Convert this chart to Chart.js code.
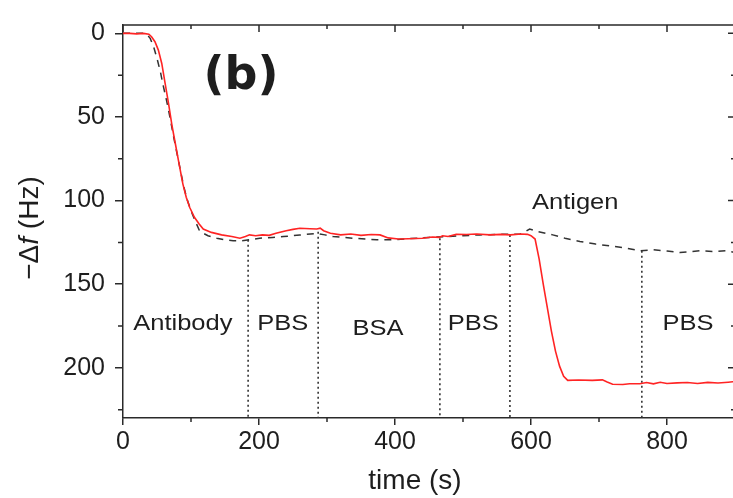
<!DOCTYPE html>
<html lang="en">
<head>
<meta charset="UTF-8">
<title>QCM frequency shift</title>
<script src="https://cdn.jsdelivr.net/npm/chart.js@4"></script>
<style>
  html, body { margin: 0; padding: 0; overflow: hidden; background: #fff; }
  #wrap { width: 740px; height: 498px; }
</style>
</head>
<body>
<div id="wrap"><canvas id="qcm"></canvas></div>
<script>
// values: time (s) and -Δf (Hz)
const redTime = [0, 10, 20, 30, 38, 42, 47, 52, 57, 62, 67, 72, 77, 82, 88, 93, 98, 105, 112, 118, 130, 145, 160, 172, 180, 186, 195, 205, 215, 225, 240, 250, 260, 275, 285, 290, 295, 305, 320, 335, 350, 365, 378, 390, 405, 420, 440, 455, 465, 470, 478, 490, 505, 520, 540, 555, 570, 585, 595, 600, 606, 612, 618, 624, 630, 636, 642, 648, 654, 670, 690, 705, 712, 720, 735, 745, 760, 770, 780, 790, 800, 815, 830, 845, 860, 875, 890, 900];
const redShift = [0, 0, 0.3, 0, 0.5, 2, 5, 10, 18, 30, 42, 55, 66, 77, 90, 98, 104, 110, 114, 117, 119, 120.5, 121.5, 122.5, 121.5, 120.5, 121, 120.5, 120.8, 119.5, 118, 117.2, 116.5, 116.8, 117, 116.5, 118, 119.5, 120.5, 120, 120.8, 120.3, 120.5, 122.3, 123, 122.8, 122.5, 121.8, 122, 121, 121.5, 120.2, 120.3, 120, 120.5, 120.2, 120.5, 120, 120.2, 121, 123, 135, 150, 164, 178, 190, 199, 205, 207.5, 207.3, 207.5, 207.2, 208.5, 209.8, 210, 209.5, 209.5, 208.8, 209.6, 208.6, 209.4, 209, 208.8, 209.4, 208.7, 209.1, 208.6, 208.2];

const dashTime = [0, 30, 36, 40, 45, 50, 55, 59, 64, 69, 74, 79, 84, 89, 94, 100, 106, 113, 125, 138, 150, 162, 175, 187, 201, 220, 236, 260, 285, 297, 309, 338, 373, 397, 420, 450, 476, 500, 525, 555, 584, 592, 598, 610, 632, 650, 672, 695, 721, 740, 760, 780, 800, 819, 835, 849, 870, 888, 900];
const dashShift = [0, 0, 1, 3, 8, 15, 23, 31, 40, 50, 61, 71, 81, 91, 99, 106, 112, 118.5, 121, 122.5, 123.5, 124, 124, 123.4, 122.5, 122, 121.5, 120.6, 119.6, 120.5, 121.5, 122.5, 123.4, 123.4, 122.8, 122, 121.5, 121, 120.5, 120.2, 120, 118.5, 117, 118.5, 120.5, 122.5, 124.4, 126, 127.3, 128.5, 130, 129.4, 130.2, 131, 130.5, 130, 130.5, 130, 131];

// injection boundaries (dotted lines) and where each one starts
const stepTime = [184, 287, 466, 569, 763];
const stepTop = [123.4, 118.6, 122.5, 120.5, 130];

const phaseLabels = ['Antibody', 'PBS', 'BSA', 'PBS', 'PBS', 'Antigen'];
const phaseX = [88, 235, 375, 515, 831, 665];
const phaseY = [173.6, 173.6, 176.5, 173.6, 173.6, 101.5];

const xTicks = [0, 200, 400, 600, 800];
const xMinor = [100, 300, 500, 700, 900];
const yTicks = [0, 50, 100, 150, 200];
const yMinor = [25, 75, 125, 175, 225];

const X_MIN = 0, X_MAX = 900, Y_MIN = -5, Y_MAX = 230;

const ink = '#2a2a2a';
const toPts = (xs, ys) => xs.map((x, i) => ({ x: x, y: ys[i] }));

const datasets = [
  { data: toPts(redTime, redShift), borderColor: '#ff2424', borderWidth: 1.6 },
  { data: toPts(dashTime, dashShift), borderColor: '#333', borderWidth: 1.5, borderDash: [7, 6] }
];
stepTime.forEach((t, i) => {
  datasets.push({ data: [{ x: t, y: stepTop[i] }, { x: t, y: Y_MAX }],
    borderColor: '#333', borderWidth: 1.6, borderDash: [2, 3] });
});
datasets.forEach(d => { d.pointRadius = 0; d.tension = 0; d.fill = false; });

const frame = {
  id: 'frame',
  afterDraw(chart) {
    const { ctx, chartArea: a, scales: { x, y } } = chart;
    ctx.save();
    ctx.strokeStyle = ink;
    ctx.lineWidth = 1.5;
    ctx.beginPath();
    ctx.moveTo(a.left, a.top); ctx.lineTo(a.right, a.top); ctx.lineTo(a.right, a.bottom);
    // top ticks (inward)
    xTicks.forEach(v => { const p = x.getPixelForValue(v); ctx.moveTo(p, a.top); ctx.lineTo(p, a.top + 7); });
    xMinor.forEach(v => { const p = x.getPixelForValue(v); ctx.moveTo(p, a.top); ctx.lineTo(p, a.top + 4); });
    // bottom minor (outward)
    xMinor.forEach(v => { const p = x.getPixelForValue(v); ctx.moveTo(p, a.bottom); ctx.lineTo(p, a.bottom + 4); });
    // left minor (outward), right ticks (inward)
    yMinor.forEach(v => { const p = y.getPixelForValue(v); ctx.moveTo(a.left, p); ctx.lineTo(a.left - 5, p);
      ctx.moveTo(a.right, p); ctx.lineTo(a.right - 4, p); });
    yTicks.forEach(v => { const p = y.getPixelForValue(v); ctx.moveTo(a.right, p); ctx.lineTo(a.right - 7, p); });
    ctx.stroke();

    ctx.fillStyle = '#1e1e1e';
    ctx.textAlign = 'center';
    ctx.textBaseline = 'middle';
    // phase labels
    ctx.font = '22px "Liberation Sans", Arial, sans-serif';
    phaseLabels.forEach((s, i) => {
      ctx.save();
      ctx.translate(x.getPixelForValue(phaseX[i]), y.getPixelForValue(phaseY[i]));
      ctx.scale(1.16, 1);
      ctx.fillText(s, 0, 0);
      ctx.restore();
    });
    // panel letter
    ctx.font = 'bold 46px "DejaVu Sans", sans-serif';
    ctx.fillText('(b)', 241, 77);
    // x title
    ctx.font = '28px "Liberation Sans", Arial, sans-serif';
    ctx.fillText('time (s)', 415, 481);
    // y title with italic f
    ctx.save();
    ctx.translate(30, 228);
    ctx.rotate(-Math.PI / 2);
    const parts = [['\u2212\u0394', '28px "Liberation Sans", Arial, sans-serif'],
                   ['f', 'italic 28px "Liberation Sans", Arial, sans-serif'],
                   [' (Hz)', '28px "Liberation Sans", Arial, sans-serif']];
    let total = 0;
    parts.forEach(p => { ctx.font = p[1]; total += ctx.measureText(p[0]).width; });
    let cx = -total / 2;
    ctx.textAlign = 'left';
    parts.forEach(p => { ctx.font = p[1]; ctx.fillText(p[0], cx, 0); cx += ctx.measureText(p[0]).width; });
    ctx.restore();
    ctx.restore();
  }
};

new Chart(document.getElementById('qcm'), {
  type: 'line',
  data: { datasets: datasets },
  options: {
    responsive: true,
    maintainAspectRatio: false,
    animation: false,
    layout: { padding: { top: 18, right: 5, left: 0, bottom: 0 } },
    plugins: { legend: { display: false }, tooltip: { enabled: false } },
    scales: {
      x: {
        type: 'linear', min: X_MIN, max: X_MAX,
        afterBuildTicks: s => { s.ticks = xTicks.map(v => ({ value: v })); },
        afterFit: s => { s.height = 80; },
        grid: { drawOnChartArea: false, color: ink, tickLength: 7, lineWidth: 1.5 },
        border: { color: ink, width: 1.5 },
        ticks: { color: '#1e1e1e', padding: 2, maxRotation: 0,
                 font: { family: '"Liberation Sans", Arial, sans-serif', size: 25 } }
      },
      y: {
        type: 'linear', reverse: true, min: Y_MIN, max: Y_MAX,
        afterBuildTicks: s => { s.ticks = yTicks.map(v => ({ value: v })); },
        afterFit: s => { s.width = 123; },
        grid: { drawOnChartArea: false, color: ink, tickLength: 8, lineWidth: 1.5 },
        border: { color: ink, width: 1.5 },
        ticks: { color: '#1e1e1e', padding: 10,
                 font: { family: '"Liberation Sans", Arial, sans-serif', size: 25 } }
      }
    }
  },
  plugins: [frame]
});
</script>
</body>
</html>
